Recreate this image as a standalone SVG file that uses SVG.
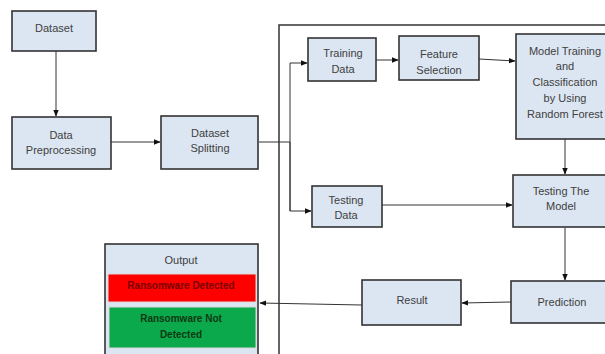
<svg xmlns="http://www.w3.org/2000/svg" width="605" height="354" viewBox="0 0 605 354">
<style>
.box{fill:#dce6f2;stroke:#333;stroke-width:1.6}
.t{font-family:"Liberation Sans",Arial,sans-serif;font-size:11px;fill:#404040;text-anchor:middle}
.c{fill:none;stroke:#333;stroke-width:1}
.b{font-weight:bold;font-size:10px}
</style>
<defs>
<marker id="ah" viewBox="0 0 10 10" refX="9" refY="5" markerWidth="7" markerHeight="7" orient="auto" markerUnits="userSpaceOnUse">
<path d="M0,1 L10,5 L0,9 z" fill="#111"/>
</marker>
</defs>
<rect width="605" height="354" fill="#fff"/>
<g id="frame"><rect x="279" y="25" width="340" height="340" fill="none" stroke="#333" stroke-width="1.5"/></g>
<g id="connectors">
<line class="c" x1="56" y1="51" x2="56" y2="116" marker-end="url(#ah)"/>
<line class="c" x1="111" y1="142" x2="160" y2="142" marker-end="url(#ah)"/>
<polyline class="c" points="259,142 290,142"/>
<polyline class="c" points="290,211 290,63 307,63" marker-end="url(#ah)"/>
<polyline class="c" points="290,142 290,211 311,211" marker-end="url(#ah)"/>
<line class="c" x1="376" y1="60" x2="398" y2="60" marker-end="url(#ah)"/>
<line class="c" x1="479" y1="59" x2="515" y2="61" marker-end="url(#ah)"/>
<line class="c" x1="565" y1="139" x2="565" y2="174" marker-end="url(#ah)"/>
<line class="c" x1="382" y1="205" x2="512" y2="205" marker-end="url(#ah)"/>
<line class="c" x1="565" y1="228" x2="565" y2="280" marker-end="url(#ah)"/>
<line class="c" x1="511" y1="302" x2="462" y2="303" marker-end="url(#ah)"/>
<line class="c" x1="362" y1="305" x2="260" y2="303" marker-end="url(#ah)"/>
</g>
<g id="dataset"><rect class="box" x="12" y="11" width="84" height="40"/><text class="t" x="54" y="32">Dataset</text></g>
<g id="preprocessing"><rect class="box" x="12" y="117" width="99" height="52"/><text class="t" x="61" y="139">Data</text><text class="t" x="61" y="154">Preprocessing</text></g>
<g id="splitting"><rect class="box" x="161" y="116" width="97" height="53"/><text class="t" x="210" y="137">Dataset</text><text class="t" x="210" y="152">Splitting</text></g>
<g id="training-data"><rect class="box" x="308" y="38" width="68" height="43"/><text class="t" x="343" y="57">Training</text><text class="t" x="343" y="73">Data</text></g>
<g id="feature-selection"><rect class="box" x="399" y="36" width="80" height="44"/><text class="t" x="439" y="58">Feature</text><text class="t" x="439" y="74">Selection</text></g>
<g id="model-training"><rect class="box" x="516" y="34" width="96" height="105"/>
<text class="t" x="565" y="55">Model Training</text><text class="t" x="565" y="70">and</text><text class="t" x="565" y="86">Classification</text><text class="t" x="565" y="102">by Using</text><text class="t" x="565" y="118">Random Forest</text></g>
<g id="testing-data"><rect class="box" x="312" y="186" width="70" height="41"/><text class="t" x="346" y="204">Testing</text><text class="t" x="346" y="219">Data</text></g>
<g id="testing-model"><rect class="box" x="513" y="175" width="96" height="52"/><text class="t" x="561" y="195">Testing The</text><text class="t" x="561" y="210">Model</text></g>
<g id="prediction"><rect class="box" x="511" y="281" width="100" height="42"/><text class="t" x="562" y="306">Prediction</text></g>
<g id="result"><rect class="box" x="362" y="280" width="99" height="45"/><text class="t" x="412" y="304">Result</text></g>
<g id="output"><rect class="box" x="105" y="244" width="153" height="120"/>
<text class="t" x="181" y="264">Output</text>
<rect x="108" y="274" width="148" height="28" fill="#ff0000" stroke="#d9d9d9" stroke-width="1"/>
<text class="t b" x="181" y="289" fill="#7a0000" style="fill:#7a0000">Ransomware Detected</text>
<rect x="109" y="307" width="147" height="41" fill="#0ca84c" stroke="#d9d9d9" stroke-width="1"/>
<text class="t b" x="181" y="322" style="fill:#0c3a12">Ransomware Not</text>
<text class="t b" x="181" y="338" style="fill:#0c3a12">Detected</text></g>
</svg>
